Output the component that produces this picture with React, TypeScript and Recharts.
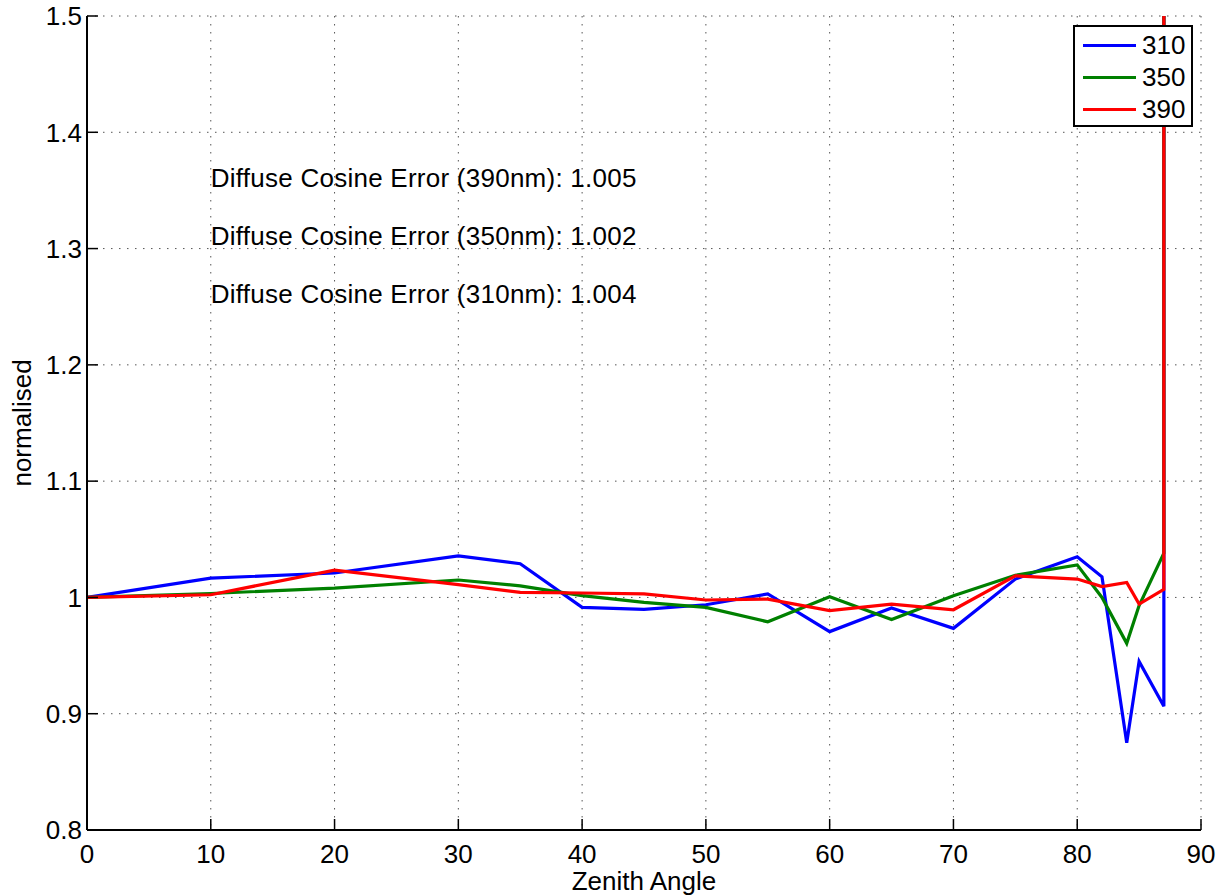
import {
  LineChart,
  Line,
  XAxis,
  YAxis,
  CartesianGrid,
  Legend,
  ReferenceDot,
} from 'recharts';

// zenith angles (deg); the last duplicated 87 is the spike that leaves the plot
const angles = [0, 10, 20, 30, 35, 40, 45, 50, 55, 60, 65, 70, 75, 80, 82, 84, 85, 87, 87];
const s310 = [1.0, 1.0166, 1.021, 1.0358, 1.029, 0.9914, 0.9897, 0.9937, 1.003, 0.9706, 0.991, 0.9734, 1.0158, 1.035, 1.0178, 0.875, 0.945, 0.9065, 2.0];
const s350 = [1.0, 1.0034, 1.008, 1.015, 1.01, 1.0015, 0.9957, 0.9914, 0.979, 1.0006, 0.981, 1.0015, 1.019, 1.028, 1.0, 0.9605, 0.993, 1.038, 2.0];
const s390 = [1.0, 1.0023, 1.0235, 1.011, 1.0043, 1.0038, 1.003, 0.9978, 0.9986, 0.9886, 0.9943, 0.9894, 1.0186, 1.0158, 1.0094, 1.0129, 0.9943, 1.007, 2.0];

const xTicks = [0, 10, 20, 30, 40, 50, 60, 70, 80, 90];
const yTicks = [0.8, 0.9, 1, 1.1, 1.2, 1.3, 1.4, 1.5];

const notes = [
  { text: 'Diffuse Cosine Error (390nm): 1.005', x: 10, y: 1.3605 },
  { text: 'Diffuse Cosine Error (350nm): 1.002', x: 10, y: 1.3107 },
  { text: 'Diffuse Cosine Error (310nm): 1.004', x: 10, y: 1.2608 },
];

const data = angles.map((a, i) => ({
  angle: a,
  s310: s310[i],
  s350: s350[i],
  s390: s390[i],
}));

const FS = 26;
const tickFont = { fontSize: FS, fill: '#000' };
const axisLine = { stroke: '#000', strokeWidth: 2 };
const tickLine = { stroke: '#000', strokeWidth: 1.5 };

function LegendBox(props: any) {
  const items = props.payload || [];
  return (
    <div
      style={{
        boxSizing: 'border-box',
        width: 120,
        height: 102,
        border: '2px solid #000',
        background: '#fff',
        paddingTop: 2,
      }}
    >
      {items.map((it: any) => (
        <div
          key={it.value}
          style={{ display: 'flex', alignItems: 'center', height: 32 }}
        >
          <span
            style={{
              display: 'inline-block',
              width: 53,
              height: 3,
              marginLeft: 8,
              background: it.color,
            }}
          />
          <span style={{ marginLeft: 6, fontSize: FS, lineHeight: 1, color: '#000' }}>
            {it.value}
          </span>
        </div>
      ))}
    </div>
  );
}

function YLabel(props: any) {
  const vb = props.viewBox;
  const cx = vb.x + 22;
  const cy = vb.y + vb.height / 2;
  return (
    <text
      x={cx}
      y={cy}
      transform={`rotate(-90 ${cx} ${cy})`}
      textAnchor="middle"
      dominantBaseline="central"
      fontSize={FS}
      fill="#000"
    >
      normalised
    </text>
  );
}

function XLabel(props: any) {
  const vb = props.viewBox;
  return (
    <text
      x={vb.x + vb.width / 2}
      y={vb.y + 60}
      textAnchor="middle"
      fontSize={FS}
      fill="#000"
    >
      Zenith Angle
    </text>
  );
}

function App() {
  return (
    <div
      style={{
        position: 'absolute',
        left: 0,
        top: 0,
        background: '#fff',
        fontFamily: '"Liberation Sans", Arial, sans-serif',
      }}
    >
      <LineChart
        width={1227}
        height={895}
        data={data}
        margin={{ top: 16, right: 26, left: 0, bottom: 0 }}
      >
        <CartesianGrid
          xAxisId="b"
          yAxisId="l"
          stroke="#555"
          strokeDasharray="1.5 6.5"
        />
        <XAxis
          xAxisId="b"
          dataKey="angle"
          type="number"
          domain={[0, 90]}
          ticks={xTicks}
          allowDataOverflow
          height={65}
          tick={tickFont}
          tickSize={-11}
          tickMargin={26}
          axisLine={axisLine}
          tickLine={tickLine}
          label={<XLabel />}
        />
        <XAxis
          xAxisId="t"
          orientation="top"
          dataKey="angle"
          type="number"
          domain={[0, 90]}
          ticks={xTicks}
          allowDataOverflow
          height={0}
          tick={false}
          tickSize={-11}
          axisLine={axisLine}
          tickLine={tickLine}
        />
        <YAxis
          yAxisId="l"
          type="number"
          domain={[0.8, 1.5]}
          ticks={yTicks}
          allowDataOverflow
          width={87}
          tick={tickFont}
          tickSize={-11}
          tickMargin={16}
          axisLine={axisLine}
          tickLine={tickLine}
          label={<YLabel />}
        />
        <YAxis
          yAxisId="r"
          orientation="right"
          type="number"
          domain={[0.8, 1.5]}
          ticks={yTicks}
          allowDataOverflow
          width={0}
          tick={false}
          tickSize={-11}
          axisLine={axisLine}
          tickLine={tickLine}
        />
        <Legend
          layout="vertical"
          align="center"
          verticalAlign="middle"
          content={<LegendBox />}
          wrapperStyle={{ left: 1073, top: 25, width: 120, height: 102 }}
        />
        {notes.map((n) => (
          <ReferenceDot
            key={n.text}
            xAxisId="b"
            yAxisId="l"
            x={n.x}
            y={n.y}
            r={0}
            fill="none"
            stroke="none"
            label={{
              value: n.text,
              position: 'right',
              offset: 0,
              fontSize: FS,
              letterSpacing: 0.25,
              fill: '#000',
            }}
          />
        ))}
        <Line
          xAxisId="b"
          yAxisId="l"
          dataKey="s310"
          name="310"
          stroke="#0000ff"
          strokeWidth={3.2}
          dot={false}
          isAnimationActive={false}
        />
        <Line
          xAxisId="b"
          yAxisId="l"
          dataKey="s350"
          name="350"
          stroke="#008000"
          strokeWidth={3.2}
          dot={false}
          isAnimationActive={false}
        />
        <Line
          xAxisId="b"
          yAxisId="l"
          dataKey="s390"
          name="390"
          stroke="#ff0000"
          strokeWidth={3.2}
          dot={false}
          isAnimationActive={false}
        />
      </LineChart>
    </div>
  );
}

export default App;
